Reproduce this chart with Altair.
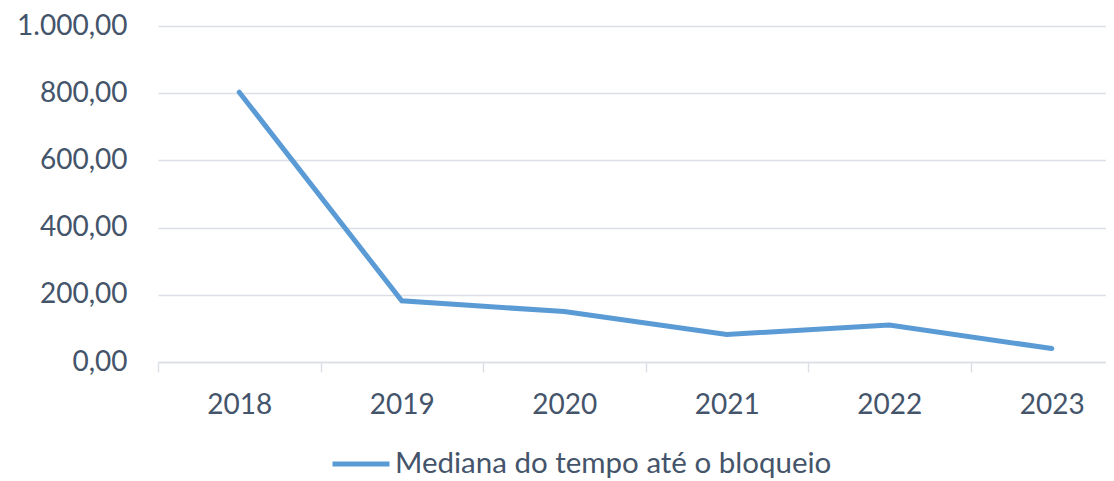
import altair as alt
import pandas as pd

anos = ["2018", "2019", "2020", "2021", "2022", "2023"]
valores = [803, 182, 150, 82, 110, 40]
serie = "Mediana do tempo até o bloqueio"
y_ticks = [0, 200, 400, 600, 800, 1000]

df = pd.DataFrame({"ano": anos, "valor": valores, "serie": [serie] * len(anos)})

FONT = "Lato"
TXT = "#44546A"
GRID = "#DCE0E6"

label_expr = (
    "replace(replace(replace(format(datum.value, ',.2f'), ',', '_'), '.', ','), '_', '.')"
)

chart = (
    alt.Chart(df)
    .mark_line(strokeWidth=5, strokeCap="round")
    .encode(
        x=alt.X(
            "ano:N",
            sort=anos,
            scale=alt.Scale(type="band", range=[0, 975], paddingInner=0, paddingOuter=0),
            axis=alt.Axis(
                title=None,
                labelAngle=0,
                tickBand="extent",
                ticks=True,
                tickSize=10,
                tickColor=GRID,
                tickWidth=1.5,
                domainColor=GRID,
                domainWidth=1.5,
                labelPadding=19,
                grid=False,
            ),
        ),
        y=alt.Y(
            "valor:Q",
            scale=alt.Scale(domain=[0, 1000], nice=False),
            axis=alt.Axis(
                title=None,
                values=y_ticks,
                domain=False,
                ticks=False,
                labelPadding=31,
                labelExpr=label_expr,
                gridColor=GRID,
                gridWidth=1.5,
            ),
        ),
        color=alt.Color(
            "serie:N",
            scale=alt.Scale(range=["#5B9BD5"]),
            legend=alt.Legend(
                title=None,
                orient="none",
                legendX=172,
                legendY=407,
                symbolType="stroke",
                symbolSize=3249,
                symbolStrokeWidth=5,
                labelFont=FONT,
                labelFontSize=29.5,
                labelColor=TXT,
                labelOffset=3,
                labelLimit=0,
                padding=0,
            ),
        ),
    )
    .properties(
        width=948,
        height=336,
        autosize="none",
        padding={"left": 150, "top": 18, "right": 0, "bottom": 119},
    )
    .configure_view(stroke=None)
    .configure_axis(labelFont=FONT, labelFontSize=28, labelColor=TXT)
)

chart.save("out.html", embed_options={"renderer": "svg", "actions": False})
